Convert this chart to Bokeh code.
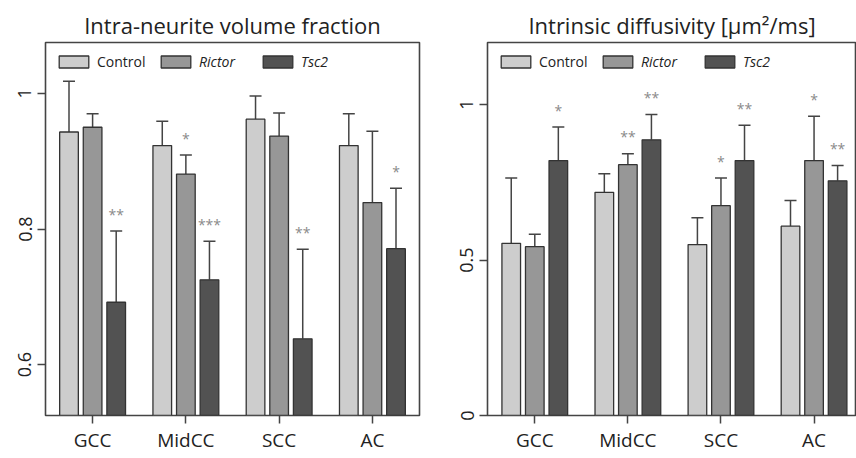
from bokeh.plotting import figure
from bokeh.models import (ColumnDataSource, Range1d, FixedTicker, NumeralTickFormatter,
                          Whisker, TeeHead, Legend, LegendItem)
from bokeh.layouts import row
from bokeh.core.properties import value
from bokeh.embed import file_html
from bokeh.resources import INLINE

# ---------------- data ----------------
categories = ["GCC", "MidCC", "SCC", "AC"]
series = ["Control", "Rictor", "Tsc2"]

# Intra-neurite volume fraction
ndi_control = [0.943, 0.923, 0.962, 0.923]
ndi_control_sd = [0.075, 0.036, 0.034, 0.047]
ndi_rictor = [0.950, 0.881, 0.937, 0.839]
ndi_rictor_sd = [0.020, 0.028, 0.034, 0.105]
ndi_tsc2 = [0.692, 0.725, 0.638, 0.771]
ndi_tsc2_sd = [0.105, 0.057, 0.132, 0.089]
ndi_stars_control = ["", "", "", ""]
ndi_stars_rictor = ["", "*", "", ""]
ndi_stars_tsc2 = ["**", "***", "**", "*"]

# Intrinsic diffusivity
dif_control = [0.554, 0.718, 0.550, 0.609]
dif_control_sd = [0.210, 0.060, 0.086, 0.083]
dif_rictor = [0.543, 0.807, 0.675, 0.820]
dif_rictor_sd = [0.040, 0.035, 0.089, 0.143]
dif_tsc2 = [0.820, 0.887, 0.820, 0.755]
dif_tsc2_sd = [0.108, 0.081, 0.114, 0.049]
dif_stars_control = ["", "", "", ""]
dif_stars_rictor = ["", "**", "*", "*"]
dif_stars_tsc2 = ["*", "**", "**", "**"]

left_yticks = [0.6, 0.8, 1.0]
right_yticks = [0.0, 0.5, 1.0]

# ---------------- style ----------------
colors = ["#cdcdcd", "#979797", "#525252"]
offsets = [-0.253, 0.0, 0.253]
bar_w = 0.2
FONT = "Open Sans"
DARK = "#444444"
positions = list(range(1, len(categories) + 1))


def make_panel(title, means, sds, stars, yr, xr, yticks, width, mb_left, mb_right):
    p = figure(width=width, height=458, output_backend="svg", toolbar_location=None,
               x_range=Range1d(*xr), y_range=Range1d(*yr),
               min_border_left=mb_left, min_border_right=mb_right,
               min_border_top=42, min_border_bottom=43)
    p.title.text = title
    p.title.align = "center"
    p.title.text_font = FONT
    p.title.text_font_size = "22px"
    p.title.text_font_style = "normal"
    p.title.text_color = "#222222"
    p.title.standoff = 5
    p.xgrid.visible = False
    p.ygrid.visible = False
    p.outline_line_color = DARK
    p.outline_line_width = 1.6
    p.background_fill_color = "white"
    p.border_fill_color = "white"

    renderers = []
    for k in range(3):
        xs = [pos + offsets[k] for pos in positions]
        upper = [m + s for m, s in zip(means[k], sds[k])]
        src = ColumnDataSource(dict(x=xs, top=means[k], upper=upper, stars=stars[k]))
        r = p.vbar(x="x", top="top", bottom=yr[0] - 1, width=bar_w, source=src,
                   fill_color=colors[k], line_color="#333333", line_width=1.3)
        renderers.append(r)
        w = Whisker(source=src, base="x", upper="upper", lower="top",
                    line_color=DARK, line_width=1.5,
                    upper_head=TeeHead(size=12, line_color=DARK, line_width=1.5),
                    lower_head=None)
        p.add_layout(w)
        p.text(x="x", y="upper", text="stars", source=src, y_offset=-17,
               text_align="center", text_baseline="middle",
               text_font=value(FONT), text_font_size="14px", text_color="#8a8a8a")

    # legends (one per item so Control is upright, genotypes italic)
    legend_x = [10, 112, 214]
    for k in range(3):
        lg = Legend(items=[LegendItem(label=series[k], renderers=[renderers[k]])],
                    location=(legend_x[k], 344), orientation="horizontal",
                    padding=0, margin=0, border_line_color=None,
                    background_fill_alpha=0, glyph_width=37, glyph_height=15,
                    label_height=15, label_standoff=5,
                    label_text_font=FONT, label_text_font_size="14px",
                    label_text_color="#222222",
                    label_text_font_style="normal" if k == 0 else "italic")
        p.add_layout(lg, "center")

    # axes
    xa = p.xaxis[0]
    xa.ticker = FixedTicker(ticks=positions)
    xa.major_label_overrides = {pos: c for pos, c in zip(positions, categories)}
    xa.axis_line_color = None
    xa.major_tick_line_color = DARK
    xa.major_tick_line_width = 1.5
    xa.major_tick_out = 8
    xa.major_tick_in = 0
    xa.minor_tick_line_color = None
    xa.major_label_text_font = FONT
    xa.major_label_text_font_size = "19px"
    xa.major_label_text_color = "#222222"
    xa.major_label_standoff = 3

    ya = p.yaxis[0]
    ya.ticker = FixedTicker(ticks=yticks)
    ya.formatter = NumeralTickFormatter(format="0.[0]")
    ya.axis_line_color = None
    ya.major_tick_line_color = DARK
    ya.major_tick_line_width = 1.5
    ya.major_tick_out = 8
    ya.major_tick_in = 0
    ya.minor_tick_line_color = None
    ya.major_label_orientation = "vertical"
    ya.major_label_text_font = FONT
    ya.major_label_text_font_size = "18px"
    ya.major_label_text_color = "#222222"
    ya.major_label_standoff = 6
    return p


p1 = make_panel("Intra-neurite volume fraction",
                [ndi_control, ndi_rictor, ndi_tsc2],
                [ndi_control_sd, ndi_rictor_sd, ndi_tsc2_sd],
                [ndi_stars_control, ndi_stars_rictor, ndi_stars_tsc2],
                (0.525, 1.075), (0.495, 4.505), left_yticks, 430, 45, 11)
p2 = make_panel("Intrinsic diffusivity [µm²/ms]",
                [dif_control, dif_rictor, dif_tsc2],
                [dif_control_sd, dif_rictor_sd, dif_tsc2_sd],
                [dif_stars_control, dif_stars_rictor, dif_stars_tsc2],
                (0.0, 1.2), (0.492, 4.456), right_yticks, 426, 57, 0)

layout = row(p1, p2)
open("out.html", "w").write(file_html(layout, INLINE))
